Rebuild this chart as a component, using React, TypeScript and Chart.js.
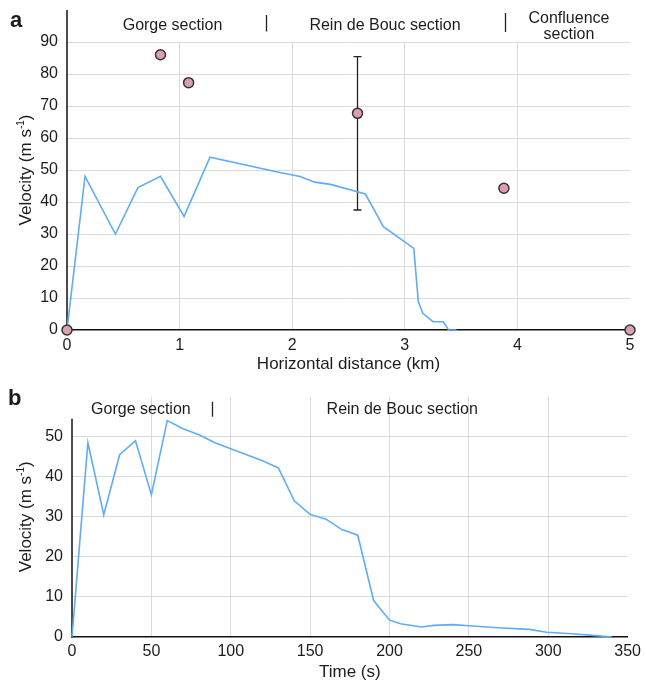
import React, { useEffect, useRef } from 'react';
import { Chart, registerables } from 'chart.js';

Chart.register(...registerables);

const FONT = '"Liberation Sans", Arial, Helvetica, sans-serif';
const TEXT = '#1c1c1c';
const GRID = '#dadada';
const BLUE = '#5eadf6';
const PINK = '#dc9fae';

// ---- Panel a: velocity vs horizontal distance ----
const distKm = [0, 0.16, 0.43, 0.63, 0.83, 1.04, 1.27, 1.89, 2.07, 2.2, 2.34, 2.65, 2.81, 3.08, 3.12, 3.16, 3.25, 3.34, 3.39, 3.46];
const velAlongDist = [0, 48, 30, 44.5, 48, 35.5, 54, 49.2, 48, 46.2, 45.5, 42.5, 32.3, 25.5, 8.8, 5.2, 2.6, 2.6, 0, 0];
const obsKm = [0, 0.83, 1.08, 2.58, 3.88, 5];
const obsVel = [0, 86, 77.3, 67.7, 44.3, 0];
const errKm = [2.58];
const errLow = [37.5];
const errHigh = [85.4];
const xTicksA = [0, 1, 2, 3, 4, 5];
const yTicksA = [0, 10, 20, 30, 40, 50, 60, 70, 80, 90];
const sectionNamesA = [['Gorge section'], ['Rein de Bouc section'], ['Confluence', 'section']];
const sectionCentersA = [0.937, 2.824, 4.458];
const dividersA = [1.767, 3.89];

// ---- Panel b: velocity vs time ----
const timeS = [0, 10, 20, 30, 40, 50, 60, 70, 80, 90, 100, 110, 120, 130, 140, 150, 160, 170, 180, 190, 200, 207, 220, 228, 240, 250, 268, 288, 299, 315, 330, 340];
const velAlongTime = [0, 48.5, 30.5, 45.5, 49, 35.5, 54, 52, 50.5, 48.5, 47, 45.5, 44, 42.2, 34, 30.6, 29.4, 26.8, 25.4, 9.1, 4.2, 3.3, 2.5, 2.9, 3.1, 2.8, 2.3, 1.9, 1.2, 0.8, 0.35, 0];
const xTicksB = [0, 50, 100, 150, 200, 250, 300, 350];
const yTicksB = [0, 10, 20, 30, 40, 50];
const sectionNamesB = [['Gorge section'], ['Rein de Bouc section']];
const sectionCentersB = [43.4, 208];
const dividersB = [87.9];

type OverlayOpts = {
  panel: string;
  panelX: number;
  panelBase: number;
  axisTop: number;
  titleOnArea: boolean;
  names: string[][];
  centers: number[];
  nameBase: number[];
  dividers: number[];
  divY: [number, number][];
  err?: { x: number[]; lo: number[]; hi: number[] };
};

function drawVelTitle(ctx: CanvasRenderingContext2D, cx: number, cy: number) {
  ctx.save();
  ctx.translate(cx, cy);
  ctx.rotate(-Math.PI / 2);
  ctx.fillStyle = TEXT;
  ctx.textBaseline = 'middle';
  ctx.textAlign = 'left';
  const main1 = 'Velocity (m s';
  const sup = '-1';
  const main2 = ')';
  ctx.font = `17px ${FONT}`;
  const w1 = ctx.measureText(main1).width;
  const w2 = ctx.measureText(main2).width;
  ctx.font = `10px ${FONT}`;
  const ws = ctx.measureText(sup).width;
  const total = w1 + ws + w2;
  let x = -total / 2;
  ctx.font = `17px ${FONT}`;
  ctx.fillText(main1, x, 0);
  x += w1;
  ctx.font = `10px ${FONT}`;
  ctx.fillText(sup, x, -5);
  x += ws;
  ctx.font = `17px ${FONT}`;
  ctx.fillText(main2, x, 0);
  ctx.restore();
}

function overlay(o: OverlayOpts) {
  return {
    id: 'overlay',
    beforeDatasetsDraw(chart: any) {
      const { ctx, chartArea } = chart;
      const x = chart.scales.x;
      const y = chart.scales.y;
      ctx.save();
      ctx.strokeStyle = '#111';
      ctx.lineWidth = 1.5;
      ctx.beginPath();
      ctx.moveTo(chartArea.left, y.getPixelForValue(0) + 0.75);
      ctx.lineTo(chartArea.left, y.getPixelForValue(o.axisTop));
      ctx.stroke();
      if (o.err) {
        ctx.strokeStyle = '#222';
        ctx.lineWidth = 1.3;
        o.err.x.forEach((ex, i) => {
          const px = x.getPixelForValue(ex);
          const p0 = y.getPixelForValue(o.err!.lo[i]);
          const p1 = y.getPixelForValue(o.err!.hi[i]);
          ctx.beginPath();
          ctx.moveTo(px, p0);
          ctx.lineTo(px, p1);
          ctx.moveTo(px - 4, p0);
          ctx.lineTo(px + 4, p0);
          ctx.moveTo(px - 4, p1);
          ctx.lineTo(px + 4, p1);
          ctx.stroke();
        });
      }
      ctx.restore();
    },
    afterDraw(chart: any) {
      const { ctx, chartArea } = chart;
      const x = chart.scales.x;
      const y = chart.scales.y;
      ctx.save();
      ctx.fillStyle = TEXT;
      ctx.textBaseline = 'alphabetic';
      ctx.textAlign = 'left';
      ctx.font = `bold 22px ${FONT}`;
      ctx.fillText(o.panel, o.panelX, o.panelBase);
      ctx.font = `16px ${FONT}`;
      ctx.textAlign = 'center';
      o.names.forEach((lines, i) => {
        const px = x.getPixelForValue(o.centers[i]);
        lines.forEach((t, j) => {
          const base = lines.length > 1 ? o.nameBase[j + 1] : o.nameBase[0];
          ctx.fillText(t, px, base);
        });
      });
      ctx.strokeStyle = '#222';
      ctx.lineWidth = 1.3;
      o.dividers.forEach((d, i) => {
        const px = Math.round(x.getPixelForValue(d)) + 0.5;
        ctx.beginPath();
        ctx.moveTo(px, o.divY[i][0]);
        ctx.lineTo(px, o.divY[i][1]);
        ctx.stroke();
      });
      ctx.restore();
      const mid = o.titleOnArea
        ? (chartArea.top + chartArea.bottom) / 2
        : (y.getPixelForValue(0) + y.getPixelForValue(o.axisTop)) / 2;
      drawVelTitle(ctx, 26, mid);
    },
  };
}

function gridColor(max: number) {
  return (c: any) => {
    const v = c.tick ? c.tick.value : null;
    if (v === 0 || v === max) return 'rgba(0,0,0,0)';
    return GRID;
  };
}

function makeConfig(p: {
  lineX: number[];
  lineY: number[];
  ptsX: number[];
  ptsY: number[];
  xTicks: number[];
  yTicks: number[];
  xMax: number;
  yMax: number;
  xTitle: string;
  padRight: number;
  padTop: number;
  xHeight: number;
  yWidth: number;
  titleBottom: number;
  tickPadX: number;
  ov: OverlayOpts;
}): any {
  const datasets: any[] = [];
  if (p.ptsX.length) {
    datasets.push({
      data: p.ptsX.map((v, i) => ({ x: v, y: p.ptsY[i] })),
      pointRadius: 5,
      pointBackgroundColor: PINK,
      pointBorderColor: '#333',
      pointBorderWidth: 1.5,
      showLine: false,
      clip: false,
    });
  }
  datasets.push({
    data: p.lineX.map((v, i) => ({ x: v, y: p.lineY[i] })),
    showLine: true,
    pointRadius: 0,
    borderColor: BLUE,
    borderWidth: 1.6,
    tension: 0,
    clip: false,
  });
  return {
    type: 'scatter',
    data: { datasets },
    options: {
      animation: false,
      responsive: false,
      events: [],
      layout: { padding: { left: 0, right: p.padRight, top: p.padTop, bottom: 0 } },
      plugins: { legend: { display: false }, tooltip: { enabled: false } },
      scales: {
        x: {
          type: 'linear',
          min: 0,
          max: p.xMax,
          afterBuildTicks: (s: any) => {
            s.ticks = p.xTicks.map((v) => ({ value: v }));
          },
          afterFit: (s: any) => {
            s.height = p.xHeight;
          },
          grid: { color: gridColor(p.xMax), drawTicks: false, lineWidth: 1 },
          border: { display: true, color: '#111', width: 1.5 },
          ticks: { color: TEXT, font: { family: FONT, size: 16 }, padding: p.tickPadX, maxRotation: 0 },
          title: {
            display: true,
            text: p.xTitle,
            color: TEXT,
            font: { family: FONT, size: 17 },
            padding: { top: 0, bottom: p.titleBottom },
          },
        },
        y: {
          type: 'linear',
          min: 0,
          max: p.yMax,
          afterBuildTicks: (s: any) => {
            s.ticks = p.yTicks.map((v) => ({ value: v }));
          },
          afterFit: (s: any) => {
            s.width = p.yWidth;
          },
          grid: { color: gridColor(-1), drawTicks: false, lineWidth: 1 },
          border: { display: false },
          ticks: { color: TEXT, font: { family: FONT, size: 16 }, padding: 9 },
        },
      },
    },
    plugins: [overlay(p.ov)],
  };
}

function PanelChart({ cfg, width, height }: { cfg: () => any; width: number; height: number }) {
  const ref = useRef<HTMLCanvasElement>(null);
  useEffect(() => {
    const chart = new Chart(ref.current as HTMLCanvasElement, cfg());
    return () => chart.destroy();
  }, []);
  return <canvas ref={ref} width={width} height={height} style={{ display: 'block', width, height }} />;
}

const configA = () =>
  makeConfig({
    lineX: distKm,
    lineY: velAlongDist,
    ptsX: obsKm,
    ptsY: obsVel,
    xTicks: xTicksA,
    yTicks: yTicksA,
    xMax: 5,
    yMax: 90,
    xTitle: 'Horizontal distance (km)',
    padRight: 16,
    padTop: 42,
    xHeight: 48,
    yWidth: 67,
    titleBottom: 3,
    tickPadX: 6,
    ov: {
      panel: 'a',
      panelX: 10,
      panelBase: 27,
      axisTop: 100,
      titleOnArea: false,
      names: sectionNamesA,
      centers: sectionCentersA,
      nameBase: [29.5, 22.7, 39],
      dividers: dividersA,
      divY: [
        [15, 31.5],
        [13, 32],
      ],
      err: { x: errKm, lo: errLow, hi: errHigh },
    },
  });

const configB = () =>
  makeConfig({
    lineX: timeS,
    lineY: velAlongTime,
    ptsX: [],
    ptsY: [],
    xTicks: xTicksB,
    yTicks: yTicksB,
    xMax: 350,
    yMax: 60,
    xTitle: 'Time (s)',
    padRight: 14,
    padTop: 17,
    xHeight: 46,
    yWidth: 72,
    titleBottom: 0,
    tickPadX: 5,
    ov: {
      panel: 'b',
      panelX: 8,
      panelBase: 27,
      axisTop: 54.5,
      titleOnArea: true,
      names: sectionNamesB,
      centers: sectionCentersB,
      nameBase: [36.3],
      dividers: dividersB,
      divY: [[23.7, 38.7]],
    },
  });

export default function App() {
  return (
    <div style={{ position: 'absolute', left: 0, top: 0, width: 646, height: 683, background: '#fff' }}>
      <PanelChart cfg={configA} width={646} height={378} />
      <PanelChart cfg={configB} width={646} height={305} />
    </div>
  );
}
